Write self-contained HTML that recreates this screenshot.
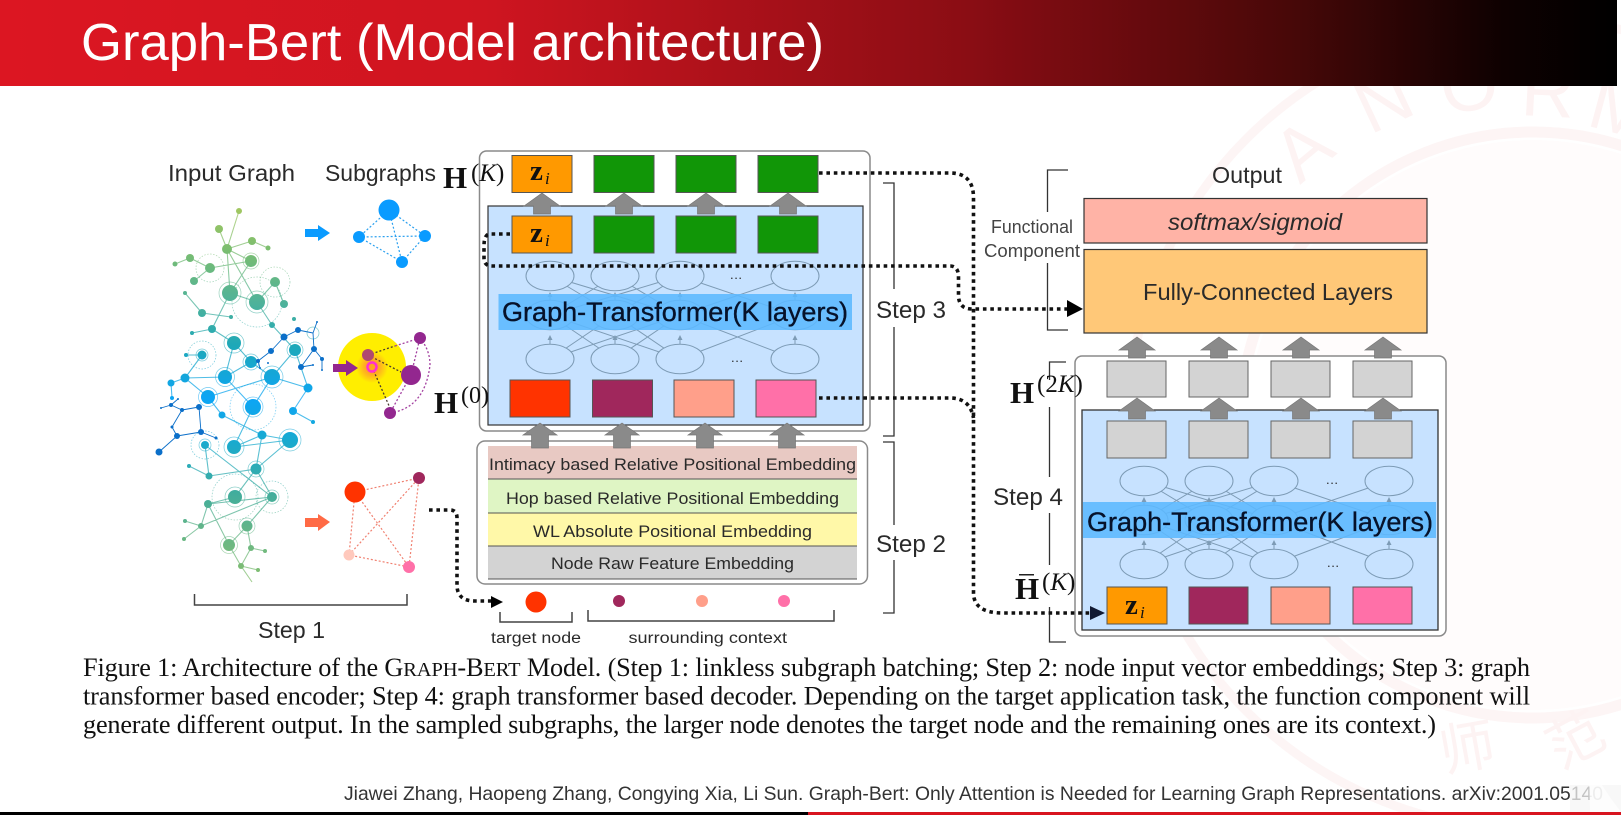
<!DOCTYPE html>
<html><head><meta charset="utf-8"><title>Graph-Bert (Model architecture)</title>
<style>html,body{margin:0;padding:0;background:#fff;width:1621px;height:815px;overflow:hidden}svg{display:block}
.s{font-family:"Liberation Sans",sans-serif;fill:#2a2a2a}
.r{font-family:"Liberation Serif",serif;fill:#111}
.rect{stroke:#555;stroke-width:1}
.dot{fill:none;stroke:#111;stroke-width:3.6;stroke-dasharray:3.6 3.8}
.gt{fill:#06122a;stroke:#06122a;stroke-width:.35}
.wm{font-family:"Liberation Sans",sans-serif;font-size:74px;fill:#fdf3f3}
</style></head><body>
<svg width="1621" height="815" viewBox="0 0 1621 815" xmlns="http://www.w3.org/2000/svg">
<defs>
<linearGradient id="hd" x1="0" x2="1" y1="0" y2="0"><stop offset="0" stop-color="#dc1622"/><stop offset=".3" stop-color="#cf1520"/><stop offset=".6" stop-color="#8a0d14"/><stop offset=".8" stop-color="#470808"/><stop offset=".93" stop-color="#0e0101"/><stop offset="1" stop-color="#000"/></linearGradient>
<linearGradient id="g" gradientUnits="userSpaceOnUse" x1="0" x2="0" y1="205" y2="585"><stop offset="0" stop-color="#a5c860"/><stop offset=".12" stop-color="#7abd70"/><stop offset=".25" stop-color="#52b398"/><stop offset=".37" stop-color="#1ea8b8"/><stop offset=".51" stop-color="#0ca5f5"/><stop offset=".62" stop-color="#18aad0"/><stop offset=".76" stop-color="#42ad9c"/><stop offset=".85" stop-color="#62b58a"/><stop offset="1" stop-color="#88c06c"/></linearGradient>
<radialGradient id="glow"><stop offset="0" stop-color="#ff8a30"/><stop offset=".5" stop-color="#ffb020"/><stop offset="1" stop-color="#ffee00"/></radialGradient>
<polygon id="a" points="0,0 18,13 8.5,13 8.5,21 -8.5,21 -8.5,13 -18,13" fill="#8a8a8a" stroke="#777" stroke-width=".7"/>
<polygon id="b" points="0,0 17,12 8.5,12 8.5,25 -8.5,25 -8.5,12 -17,12" fill="#8a8a8a" stroke="#777" stroke-width=".7"/>
<g id="net">
<path d="M550 276L615 315M550 276L680 315M615 276L680 315M615 276L550 315M680 276L550 315M680 276L615 315M680 276L795 315M795 276L680 315M550 359L615 315M550 359L680 315M615 359L680 315M615 359L550 315M680 359L550 315M680 359L615 315M680 359L795 315M795 359L680 315" stroke="#7d9bb5" stroke-width="1" fill="none"/>
<g fill="#c7e2ff" stroke="#7d9bb5" stroke-width="1">
<ellipse cx="550" cy="276" rx="24" ry="14.7"/><ellipse cx="615" cy="276" rx="24" ry="14.7"/><ellipse cx="680" cy="276" rx="24" ry="14.7"/><ellipse cx="795" cy="276" rx="24" ry="14.7"/>
<ellipse cx="550" cy="315" rx="24" ry="14.7"/><ellipse cx="615" cy="315" rx="24" ry="14.7"/><ellipse cx="680" cy="315" rx="24" ry="14.7"/><ellipse cx="795" cy="315" rx="24" ry="14.7"/>
<ellipse cx="550" cy="359" rx="24" ry="14.7"/><ellipse cx="615" cy="359" rx="24" ry="14.7"/><ellipse cx="680" cy="359" rx="24" ry="14.7"/><ellipse cx="795" cy="359" rx="24" ry="14.7"/>
</g>
<path d="M550 292l-2.5 5h5zM615 292l-2.5 5h5zM680 292l-2.5 5h5zM795 292l-2.5 5h5zM550 335l-2.5 5h5zM615 335l-2.5 5h5zM680 335l-2.5 5h5zM795 335l-2.5 5h5z" fill="#7d9bb5"/>
<path d="M550 297v3M615 297v3M680 297v3M795 297v3M550 340v4M615 340v4M680 340v4M795 340v4" stroke="#7d9bb5"/>
</g>
</defs>

<rect width="1621" height="815" fill="#fff"/>
<!-- watermark -->
<g fill="none" stroke="#fdf5f5">
<circle cx="1533" cy="425" r="405" stroke-width="9"/>
<circle cx="1533" cy="425" r="293" stroke-width="11"/>
</g>
<circle cx="1533" cy="425" r="285" fill="#fffcfc"/>
<text class="wm" transform="translate(1300 185) rotate(-40)">A</text>
<text class="wm" transform="translate(1370 135) rotate(-25)">N</text>
<text class="wm" transform="translate(1445 115) rotate(-10)">O</text>
<text class="wm" transform="translate(1520 115) rotate(3)">R</text>
<text class="wm" transform="translate(1585 125) rotate(15)">M</text>
<text x="1443" y="772" font-family="'Liberation Sans','Noto Sans CJK SC',sans-serif" font-size="56" fill="#fdf3f3" transform="rotate(-10 1443 772)">师</text>
<text x="1560" y="770" font-family="'Liberation Sans','Noto Sans CJK SC',sans-serif" font-size="56" fill="#fdf3f3" transform="rotate(-28 1560 770)">范</text>

<!-- header -->
<rect x="0" y="0" width="1617" height="86" fill="url(#hd)"/>
<text x="81" y="60" font-family="'Liberation Sans',sans-serif" font-size="52" fill="#fff" textLength="743" lengthAdjust="spacingAndGlyphs">Graph-Bert (Model architecture)</text>

<!-- Labels left -->
<text class="s" x="168" y="181" font-size="23.5" textLength="127" lengthAdjust="spacingAndGlyphs">Input Graph</text>
<text class="s" x="325" y="181" font-size="23.5" textLength="111" lengthAdjust="spacingAndGlyphs">Subgraphs</text>

<!-- network -->
<g fill="none" stroke="url(#g)" stroke-width="1.1" stroke-opacity=".75">
<path d="M239 211L227 249M219 229L227 249M227 249L252 241M252 241L268 248M227 249L251 261M190 258L175 264M190 258L210 268M210 268L251 261M227 249L230 293M227 249L257 302M251 261L230 293M194 281L210 268M275 282L257 302M275 282L284 304M230 293L257 302M185 293L202 313M202 313L231 317M257 302L272 325M230 293L212 329M212 329L192 333M212 329L234 343M272 325L295 350M234 343L251 362M251 362L225 377M225 377L234 343M251 362L272 377M272 377L295 350M225 377L185 378M185 378L202 355M202 355L186 355M185 378L171 383M171 383L172 398M185 378L208 397M225 377L253 407M208 397L272 377M253 407L272 377M208 397L222 415M222 415L262 435M253 407L234 447M262 435L290 440M234 447L290 440M262 435L256 469M290 440L256 469M234 447L262 435M205 445L272 497M205 445L209 476M189 466L209 476M209 476L256 469M256 469L235 497M256 469L272 497M235 497L208 504M272 497L208 504M208 504L201 526M272 497L201 526M201 526L185 521M201 526L184 539M208 504L229 545M272 497L247 526M247 526L229 545M247 526L251 548M251 548L265 551M229 545L241 566M251 548L241 566M241 566L258 570M241 566L252 582M308 388L272 377M308 388L293 411M293 411L313 422M295 350L308 388"/>
<g stroke-dasharray="1.5 1.5" stroke-width=".7" stroke-opacity=".6">
<circle cx="210" cy="268" r="14"/><circle cx="275" cy="282" r="15"/><circle cx="202" cy="355" r="14"/><circle cx="253" cy="407" r="23"/><circle cx="205" cy="445" r="14"/><circle cx="235" cy="497" r="23"/><circle cx="272" cy="497" r="16"/><circle cx="257" cy="302" r="25"/>
</g>
<g stroke-width=".7" stroke-opacity=".6">
<circle cx="251" cy="261" r="8"/><circle cx="230" cy="293" r="11"/><circle cx="257" cy="302" r="11"/><circle cx="234" cy="343" r="10"/><circle cx="251" cy="362" r="8"/><circle cx="295" cy="350" r="8"/><circle cx="272" cy="377" r="11"/><circle cx="225" cy="377" r="9.5"/><circle cx="208" cy="397" r="9.5"/><circle cx="253" cy="407" r="10"/><circle cx="234" cy="447" r="10"/><circle cx="290" cy="440" r="11"/><circle cx="256" cy="469" r="8"/><circle cx="235" cy="497" r="10"/><circle cx="272" cy="497" r="7"/><circle cx="247" cy="526" r="8"/><circle cx="229" cy="545" r="8.5"/><circle cx="313" cy="333" r="6"/><circle cx="202" cy="355" r="6"/><circle cx="205" cy="445" r="6"/>
</g>
</g>
<g fill="url(#g)">
<circle cx="239" cy="211" r="3"/><circle cx="219" cy="229" r="4"/><circle cx="227" cy="249" r="5"/><circle cx="252" cy="241" r="4"/><circle cx="268" cy="248" r="2.5"/><circle cx="251" cy="261" r="6"/><circle cx="190" cy="258" r="4"/><circle cx="175" cy="264" r="2.5"/><circle cx="210" cy="268" r="5"/><circle cx="194" cy="281" r="4"/><circle cx="275" cy="282" r="5"/><circle cx="230" cy="293" r="8"/><circle cx="257" cy="302" r="8"/><circle cx="284" cy="304" r="4"/><circle cx="185" cy="293" r="2"/><circle cx="202" cy="313" r="4"/><circle cx="231" cy="317" r="2"/><circle cx="294" cy="319" r="2"/><circle cx="192" cy="333" r="2"/><circle cx="212" cy="329" r="4"/><circle cx="272" cy="325" r="3"/><circle cx="234" cy="343" r="7"/><circle cx="202" cy="355" r="4.5"/><circle cx="186" cy="355" r="2"/><circle cx="251" cy="362" r="6"/><circle cx="295" cy="350" r="6"/><circle cx="272" cy="377" r="8"/><circle cx="225" cy="377" r="7"/><circle cx="185" cy="378" r="4.5"/><circle cx="171" cy="383" r="3.5"/><circle cx="308" cy="388" r="4.5"/><circle cx="208" cy="397" r="7"/><circle cx="172" cy="398" r="2"/><circle cx="253" cy="407" r="8"/><circle cx="222" cy="415" r="3.5"/><circle cx="293" cy="411" r="4"/><circle cx="313" cy="422" r="2"/><circle cx="262" cy="435" r="4.5"/><circle cx="234" cy="447" r="7"/><circle cx="290" cy="440" r="8"/><circle cx="205" cy="445" r="4"/><circle cx="189" cy="466" r="2"/><circle cx="209" cy="476" r="3.5"/><circle cx="256" cy="469" r="5.5"/><circle cx="235" cy="497" r="7"/><circle cx="272" cy="497" r="5"/><circle cx="208" cy="504" r="4"/><circle cx="185" cy="521" r="2"/><circle cx="201" cy="526" r="3"/><circle cx="247" cy="526" r="5.5"/><circle cx="184" cy="539" r="2"/><circle cx="229" cy="545" r="6"/><circle cx="251" cy="548" r="3"/><circle cx="265" cy="551" r="2"/><circle cx="241" cy="566" r="3"/><circle cx="258" cy="570" r="2"/>
</g>
<g fill="#0b6fc9" stroke="#0b6fc9" stroke-width="1">
<path fill="none" d="M159 452L177 436M177 436L172 427M177 436L201 432M201 432L216 438M201 432L199 407M199 407L182 410M182 410L171 405M182 410L172 427M171 405L161 408M258 361L271 351M271 351L284 337M284 337L298 330M298 330L313 333M313 333L317 322M313 333L314 349M314 349L322 359M322 359L322 370M314 349L301 367M301 367L313 365M258 361L260 368M171 405L178 399" stroke-width=".9"/>
<g stroke="none"><circle cx="298" cy="330" r="3"/><circle cx="284" cy="337" r="3.5"/><circle cx="271" cy="351" r="3"/><circle cx="258" cy="361" r="2"/><circle cx="268" cy="363" r="1"/><circle cx="260" cy="368" r="1"/><circle cx="317" cy="322" r="1"/><circle cx="314" cy="349" r="3"/><circle cx="322" cy="359" r="2"/><circle cx="301" cy="367" r="3"/><circle cx="313" cy="365" r="1"/><circle cx="322" cy="370" r="1"/><circle cx="178" cy="399" r="1"/><circle cx="171" cy="405" r="2"/><circle cx="161" cy="408" r="1"/><circle cx="182" cy="410" r="2"/><circle cx="199" cy="407" r="3"/><circle cx="172" cy="427" r="1.5"/><circle cx="177" cy="436" r="3"/><circle cx="201" cy="432" r="3"/><circle cx="216" cy="438" r="1.5"/><circle cx="159" cy="452" r="3.5"/></g>
</g>

<!-- step 1 bracket -->
<path d="M194.500 594V605H407V594" fill="none" stroke="#444" stroke-width="1.5"/>
<text class="s" x="258" y="638" font-size="23" textLength="67" lengthAdjust="spacingAndGlyphs">Step 1</text>

<!-- blue subgraph -->
<polygon points="305,229 318,229 318,225 330,233 318,241 318,237 305,237" fill="#0a9bff"/>
<g stroke="#2aa0ef" stroke-width="1.2" stroke-dasharray="2 2" fill="none"><path d="M389 210L359 237L425 236L389 210L402 262L359 237M402 262L425 236"/></g>
<g fill="#0a9bff"><circle cx="389" cy="210" r="10.500"/><circle cx="359" cy="237" r="6"/><circle cx="425" cy="236" r="6"/><circle cx="402" cy="262" r="6"/></g>

<!-- yellow subgraph -->
<circle cx="372" cy="367" r="34" fill="#ffee00"/>
<circle cx="372" cy="367" r="16" fill="url(#glow)"/>
<g stroke="#4a3a30" stroke-width="1.3" stroke-dasharray="2 2" fill="none"><path d="M368 355L395 346M372 367L390 408M368 355L401 372"/></g>
<g stroke="#a340a0" stroke-width="1.3" stroke-dasharray="2 2" fill="none"><path d="M395 346L420 338L411 375L390 413M390 413Q425 408 430 365Q430 350 420 338"/></g>
<circle cx="368" cy="355" r="6" fill="#b04a70"/>
<circle cx="372" cy="367" r="4.500" fill="#ffa520" stroke="#ff2fd0" stroke-width="2.500"/>
<g fill="#93278f"><circle cx="411" cy="375" r="10"/><circle cx="420" cy="338" r="6"/><circle cx="390" cy="413" r="6"/></g>
<polygon points="333,364 346,364 346,360 358,368 346,376 346,372 333,372" fill="#93278f"/>

<!-- coral subgraph -->
<polygon points="305,518 318,518 318,514 330,522 318,531 318,527 305,527" fill="#ff6a45"/>
<g stroke="#f08070" stroke-width="1.2" stroke-dasharray="2 2" fill="none"><path d="M355 492L419 478L409 567L349 555L355 492L409 567M349 555L419 478"/></g>
<circle cx="355" cy="492" r="10.500" fill="#ff3300"/><circle cx="419" cy="478" r="6" fill="#a0275c"/><circle cx="349" cy="555" r="5.500" fill="#ffc9bd"/><circle cx="409" cy="567" r="6" fill="#ff70a8"/>

<!-- Encoder -->
<rect x="479.500" y="151" width="390.500" height="280" rx="7" fill="#fff" stroke="#8a8a8a" stroke-width="1.500"/>
<rect x="488" y="206" width="375" height="219" fill="#c7e2ff" stroke="#333" stroke-width="1.200"/>
<use href="#net"/>
<rect x="498.500" y="294" width="353.500" height="36" fill="#5cb8ff" fill-opacity=".88"/>
<text class="s gt" x="502" y="321" font-size="27" textLength="346" lengthAdjust="spacingAndGlyphs">Graph-Transformer(K layers)</text>
<text class="s" x="730" y="279" font-size="13" textLength="12">...</text>
<text class="s" x="731" y="362" font-size="13" textLength="12">...</text>
<rect class="rect" x="512" y="155.500" width="60" height="37" fill="#ff9900"/>
<rect class="rect" x="594" y="155.500" width="60" height="37" fill="#119607"/>
<rect class="rect" x="676" y="155.500" width="60" height="37" fill="#119607"/>
<rect class="rect" x="758" y="155.500" width="60" height="37" fill="#119607"/>
<use href="#a" x="542" y="193"/><use href="#a" x="624" y="193"/><use href="#a" x="706" y="193"/><use href="#a" x="788" y="193"/>
<rect class="rect" x="512" y="216" width="60" height="37" fill="#ff9900"/>
<rect class="rect" x="594" y="216" width="60" height="37" fill="#119607"/>
<rect class="rect" x="676" y="216" width="60" height="37" fill="#119607"/>
<rect class="rect" x="758" y="216" width="60" height="37" fill="#119607"/>
<rect class="rect" x="510" y="380" width="60" height="37" fill="#ff3300"/>
<rect class="rect" x="592.500" y="380" width="60" height="37" fill="#a0275c"/>
<rect class="rect" x="674" y="380" width="60" height="37" fill="#ff9f8a"/>
<rect class="rect" x="756" y="380" width="60" height="37" fill="#ff70a8"/>
<text class="r" x="530" y="180" font-size="29" font-weight="bold">z</text><text class="r" x="545" y="184" font-size="17" font-style="italic">i</text>
<text class="r" x="530" y="242" font-size="29" font-weight="bold">z</text><text class="r" x="545" y="246" font-size="17" font-style="italic">i</text>

<!-- H labels -->
<text class="r" x="443" y="188" font-size="31" font-weight="bold">H</text>
<text class="r" x="471" y="181" font-size="25">(<tspan font-style="italic">K</tspan>)</text>
<text class="r" x="434" y="413" font-size="31" font-weight="bold">H</text>
<text class="r" x="461" y="403" font-size="24">(0)</text>

<!-- Embeddings -->
<rect x="477" y="441" width="390.500" height="143" rx="8" fill="#fff" stroke="#8a8a8a" stroke-width="1.500"/>
<rect x="488" y="446" width="369" height="33" fill="#e8c9c3"/>
<rect x="488" y="479" width="369" height="34" fill="#dff5c4"/>
<rect x="488" y="513" width="369" height="33" fill="#fff8a8"/>
<rect x="488" y="546" width="369" height="33" fill="#d3d3d3"/>
<path d="M488 479H857M488 513H857M488 546H857M488 579H857" stroke="#555" stroke-width="1"/>
<use href="#b" x="540" y="423"/><use href="#b" x="622" y="423"/><use href="#b" x="705" y="423"/><use href="#b" x="787" y="423"/>
<text class="s" x="489" y="470" font-size="17" textLength="367" lengthAdjust="spacingAndGlyphs">Intimacy based Relative Positional Embedding</text>
<text class="s" x="506" y="504" font-size="17" textLength="333" lengthAdjust="spacingAndGlyphs">Hop based Relative Positional Embedding</text>
<text class="s" x="533" y="537" font-size="17" textLength="279" lengthAdjust="spacingAndGlyphs">WL Absolute Positional Embedding</text>
<text class="s" x="551" y="569" font-size="17" textLength="243" lengthAdjust="spacingAndGlyphs">Node Raw Feature Embedding</text>

<!-- input nodes -->
<circle cx="536" cy="602" r="10.500" fill="#ff3300"/><circle cx="619" cy="601" r="6" fill="#a0275c"/><circle cx="702" cy="601" r="6" fill="#ff9f8a"/><circle cx="784" cy="601" r="6" fill="#ff70a8"/>
<path d="M500 612V622H572V612M588 610V621H834V610" fill="none" stroke="#444" stroke-width="1.500"/>
<text class="s" x="491" y="643" font-size="15.500" textLength="90" lengthAdjust="spacingAndGlyphs">target node</text>
<text class="s" x="628.500" y="643" font-size="15.500" textLength="158.500" lengthAdjust="spacingAndGlyphs">surrounding context</text>

<!-- Step brackets -->
<path d="M883 183H894V289M894 327V436H883M883 442H894V525M894 560V613H883" fill="none" stroke="#333" stroke-width="1.300"/>
<text class="s" x="876" y="318" font-size="24" textLength="70" lengthAdjust="spacingAndGlyphs">Step 3</text>
<text class="s" x="876" y="552" font-size="24" textLength="70" lengthAdjust="spacingAndGlyphs">Step 2</text>

<!-- Right side output -->
<text class="s" x="1212" y="183" font-size="23" textLength="70" lengthAdjust="spacingAndGlyphs">Output</text>
<rect x="1084" y="198.500" width="343" height="44.500" fill="#ffb3a6" stroke="#333" stroke-width="1.200"/>
<rect x="1084" y="249.500" width="343" height="83.500" fill="#ffc878" stroke="#333" stroke-width="1.200"/>
<text class="s" x="1168" y="230" font-size="23" font-style="italic" textLength="174" lengthAdjust="spacingAndGlyphs">softmax/sigmoid</text>
<text class="s" x="1143" y="300" font-size="23" textLength="250" lengthAdjust="spacingAndGlyphs">Fully-Connected Layers</text>
<text class="s" x="991" y="233" font-size="18" textLength="82" lengthAdjust="spacingAndGlyphs" style="fill:#444">Functional</text>
<text class="s" x="984" y="257" font-size="18" textLength="96" lengthAdjust="spacingAndGlyphs" style="fill:#444">Component</text>
<path d="M1068 170H1047.500V212M1047.500 263V330H1068" fill="none" stroke="#333" stroke-width="1.300"/>

<!-- Decoder -->
<rect x="1075" y="356" width="371" height="280" rx="7" fill="#fff" stroke="#8a8a8a" stroke-width="1.500"/>
<rect x="1082" y="410" width="356" height="220" fill="#c7e2ff" stroke="#333" stroke-width="1.300"/>
<use href="#a" x="1137" y="337"/><use href="#a" x="1219" y="337"/><use href="#a" x="1301" y="337"/><use href="#a" x="1383" y="337"/>
<g fill="#d3d3d3" stroke="#666">
<rect x="1107" y="361" width="59" height="36"/><rect x="1189" y="361" width="59" height="36"/><rect x="1271" y="361" width="59" height="36"/><rect x="1353" y="361" width="59" height="36"/>
<rect x="1107" y="421" width="59" height="37"/><rect x="1189" y="421" width="59" height="37"/><rect x="1271" y="421" width="59" height="37"/><rect x="1353" y="421" width="59" height="37"/>
</g>
<use href="#a" x="1137" y="398"/><use href="#a" x="1219" y="398"/><use href="#a" x="1301" y="398"/><use href="#a" x="1383" y="398"/>
<use href="#net" x="594" y="205"/>
<rect x="1083" y="502" width="353" height="36" fill="#5cb8ff" fill-opacity=".88"/>
<text class="s gt" x="1087" y="531" font-size="27" textLength="346" lengthAdjust="spacingAndGlyphs">Graph-Transformer(K layers)</text>
<text class="s" x="1326" y="484" font-size="13" textLength="12">...</text>
<text class="s" x="1327" y="567" font-size="13" textLength="12">...</text>
<rect class="rect" x="1107" y="587" width="60" height="37" fill="#ff9900"/>
<rect class="rect" x="1189" y="587" width="59" height="37" fill="#a0275c"/>
<rect class="rect" x="1271" y="587" width="59" height="37" fill="#ff9f8a"/>
<rect class="rect" x="1353" y="587" width="59" height="37" fill="#ff70a8"/>
<text class="r" x="1125" y="614" font-size="29" font-weight="bold">z</text><text class="r" x="1140" y="618" font-size="17" font-style="italic">i</text>

<!-- Step 4 bracket & labels -->
<path d="M1066 362H1049.500V380M1049.500 407V477M1049.500 513V565M1049.500 607V642H1066" fill="none" stroke="#333" stroke-width="1.300"/>
<text class="s" x="993" y="505" font-size="24" textLength="70" lengthAdjust="spacingAndGlyphs">Step 4</text>
<text class="r" x="1010" y="403" font-size="31" font-weight="bold">H</text>
<text class="r" x="1037" y="392" font-size="25">(2<tspan font-style="italic">K</tspan>)</text>
<text class="r" x="1015" y="599" font-size="31" font-weight="bold">H</text>
<rect x="1019" y="574" width="15" height="1.500" fill="#222"/>
<text class="r" x="1042" y="590" font-size="25">(<tspan font-style="italic">K</tspan>)</text>

<!-- Dotted connectors -->
<path class="dot" d="M819 173H950Q973 173 973.500 197V592Q973 613 1003 613H1092"/>
<path class="dot" d="M819 398H950Q970 398 973.500 418"/>
<path class="dot" d="M510 234H490Q484 234 484 246V258Q484 266 492 266H950Q958 266 958.500 276V296Q959 309 972 309H1068"/>
<path class="dot" d="M429 510H450Q457 510 457 518V585Q457 601 475 601H492"/>
<polygon points="1067,300 1083,309 1067,317" fill="#000"/>
<polygon points="1090,606 1105,613 1090,620" fill="#111a33"/>
<polygon points="491,596 503,602 491,608" fill="#000"/>

<!-- Caption -->
<text class="r" x="83" y="676" font-size="26.300" textLength="1447" lengthAdjust="spacing">Figure 1: Architecture of the G<tspan font-size="20.500">RAPH</tspan>-B<tspan font-size="20.500">ERT</tspan> Model. (Step 1: linkless subgraph batching; Step 2: node input vector embeddings; Step 3: graph</text>
<text class="r" x="83" y="704.500" font-size="26.300" textLength="1447" lengthAdjust="spacing">transformer based encoder; Step 4: graph transformer based decoder. Depending on the target application task, the function component will</text>
<text class="r" x="83" y="733" font-size="26.300" textLength="1353" lengthAdjust="spacing">generate different output. In the sampled subgraphs, the larger node denotes the target node and the remaining ones are its context.)</text>

<!-- Footer -->
<text class="s" x="344" y="800" font-size="19.500" textLength="1259" lengthAdjust="spacingAndGlyphs" style="fill:#333">Jiawei Zhang, Haopeng Zhang, Congying Xia, Li Sun. Graph-Bert: Only Attention is Needed for Learning Graph Representations. arXiv:2001.05140</text>
<rect x="1570" y="785" width="51" height="27" fill="#f6f6f6" fill-opacity=".75"/>
<polygon points="1589,775 1600,782 1612,800 1621,812 1590,812" fill="#fff" fill-opacity=".7"/>

<!-- Bottom bar -->
<rect x="0" y="812" width="808" height="3" fill="#000"/>
<rect x="808" y="812" width="813" height="3" fill="#d8141f"/>
</svg>
</body></html>
